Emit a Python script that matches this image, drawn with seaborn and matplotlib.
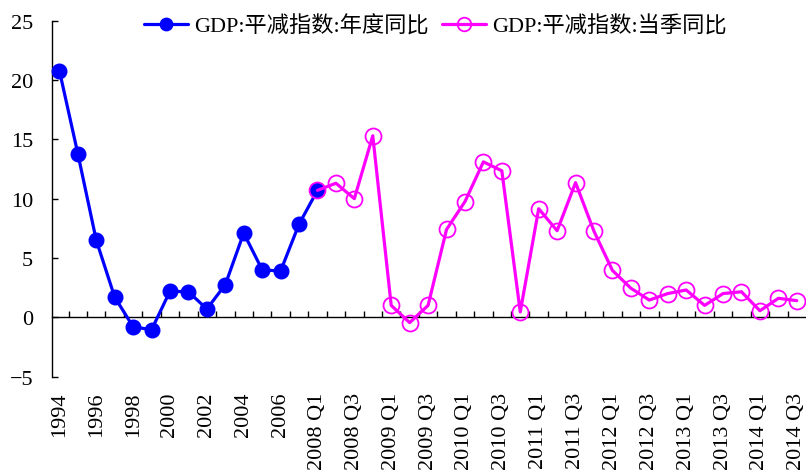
import numpy as np
import pandas as pd
import matplotlib
matplotlib.use("Agg")
import matplotlib.pyplot as plt
from matplotlib.ticker import FixedLocator, FixedFormatter, MultipleLocator
import seaborn as sns

# ---- data -------------------------------------------------------------
years = [str(y) for y in range(1994, 2008)]
quarters = [f"{y} Q{q}" for y in range(2008, 2015) for q in range(1, 5)][:27]
categories = years + quarters

annual_label = "GDP:平减指数:年度同比"
annual_values = [20.8, 13.8, 6.5, 1.7, -0.8, -1.05, 2.2, 2.15, 0.7, 2.75,
                 7.1, 4.0, 3.9, 7.85, 10.7]

quarter_label = "GDP:平减指数:当季同比"
quarter_values = [10.7, 11.3, 10.0, 15.3, 1.0, -0.45, 1.0, 7.4, 9.75, 13.1,
                  12.35, 0.45, 9.15, 7.3, 11.35, 7.25, 3.95, 2.45, 1.45, 2.0,
                  2.3, 1.0, 2.0, 2.15, 0.55, 1.6, 1.4]

tick_labels = categories[::2]

# ---- style ------------------------------------------------------------
sns.set_theme(style="white")
plt.rcParams["font.family"] = ["Liberation Serif", "Noto Sans CJK SC"]
plt.rcParams["axes.unicode_minus"] = True
plt.rcParams["text.color"] = "black"
plt.rcParams["xtick.color"] = "black"
plt.rcParams["ytick.color"] = "black"

pos = {c: i for i, c in enumerate(categories)}
annual_df = pd.DataFrame({"x": [pos[c] for c in categories[:len(annual_values)]],
                          "y": annual_values})
quarter_df = pd.DataFrame({"x": [pos[c] for c in categories[len(annual_values) - 1:]],
                           "y": quarter_values})

fig = plt.figure(figsize=(8.06, 4.77), dpi=100)
ax = fig.add_axes([52 / 806, 1 - 377.6 / 477, 754 / 806, (377.6 - 21.7) / 477])

blue = "#0000FF"
magenta = "#FF00FF"

sns.lineplot(data=annual_df, x="x", y="y", ax=ax, color=blue, linewidth=2.3,
             marker="o", markersize=10.5, markerfacecolor=blue,
             markeredgecolor=blue, markeredgewidth=1.0, label=annual_label,
             clip_on=False, zorder=3)
sns.lineplot(data=quarter_df, x="x", y="y", ax=ax, color=magenta, linewidth=2.3,
             marker="o", markersize=11.5, markerfacecolor="none",
             markeredgecolor=magenta, markeredgewidth=1.3, label=quarter_label,
             clip_on=False, zorder=4)

# ---- axes -------------------------------------------------------------
ax.set_xlim(-0.4, len(categories) - 0.5)
ax.set_ylim(-5, 25)
ax.yaxis.set_major_locator(MultipleLocator(5))
ax.set_xlabel("")
ax.set_ylabel("")

ax.xaxis.set_major_locator(FixedLocator(np.arange(0, len(categories), 2)))
ax.xaxis.set_major_formatter(FixedFormatter(tick_labels))
ax.xaxis.set_minor_locator(FixedLocator(np.arange(0.5, len(categories) - 1, 1)))

ax.tick_params(axis="x", which="major", bottom=True, top=False, length=0,
               pad=11, labelbottom=True, labeltop=False, labelrotation=90,
               labelsize=16)
ax.tick_params(axis="x", which="minor", bottom=False, top=True, direction="out",
               length=4, width=1.0, labeltop=False, labelbottom=False)
ax.tick_params(axis="y", which="major", left=True, direction="in", length=4.5,
               width=1.0, pad=13.5, labelsize=16)

for side in ("right", "bottom"):
    ax.spines[side].set_visible(False)
ax.spines["left"].set_color("black")
ax.spines["left"].set_linewidth(1.0)
ax.spines["top"].set_position(("data", 0))
ax.spines["top"].set_color("black")
ax.spines["top"].set_linewidth(1.0)
ax.spines["top"].set_visible(True)

handles, labels = ax.get_legend_handles_labels()
ax.legend(handles, labels, loc="center", bbox_to_anchor=(0.540, 1 - 27 / 477),
          bbox_transform=fig.transFigure, ncol=2, frameon=False, fontsize=16,
          handlelength=2.0, handletextpad=0.25, columnspacing=0.6,
          markerscale=0.85, borderpad=0)

fig.savefig("out.png", dpi=100)
